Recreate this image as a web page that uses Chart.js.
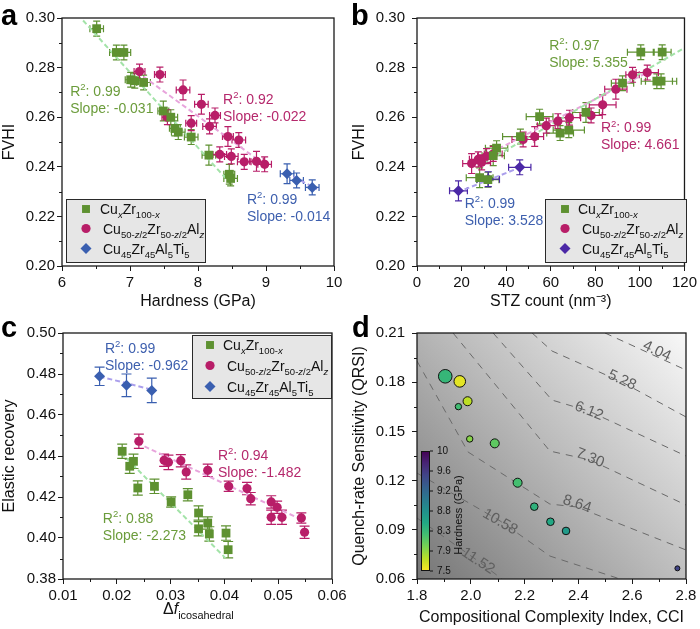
<!DOCTYPE html>
<html>
<head>
<meta charset="utf-8">
<script src="https://cdn.jsdelivr.net/npm/chart.js@4.4.0/dist/chart.umd.min.js"></script>
<style>
  html, body { margin: 0; padding: 0; background: #fff; }
  #wrap { position: relative; width: 700px; height: 629px; overflow: hidden; }
  #wrap canvas { position: absolute; }
</style>
</head>
<body>
<div id="wrap">
  <canvas id="chartA" width="350" height="315" style="left:0;top:0"></canvas>
  <canvas id="chartB" width="350" height="315" style="left:350px;top:0"></canvas>
  <canvas id="chartC" width="350" height="314" style="left:0;top:315px"></canvas>
  <canvas id="chartD" width="350" height="314" style="left:350px;top:315px"></canvas>
</div>
<script>
const FONT = "'Liberation Sans', Arial, Helvetica, sans-serif";

// ---------- panel a : FVHI vs hardness ----------
const aCuZrHardness  = [6.51, 6.80, 6.91, 7.01, 7.07, 7.20, 7.49, 7.60, 7.66, 7.71, 7.90, 8.16, 8.46, 8.48];
const aCuZrFvhi      = [0.2957, 0.2861, 0.2861, 0.2751, 0.2747, 0.2740, 0.2625, 0.2600, 0.2555, 0.2540, 0.2520, 0.2447, 0.2370, 0.2353];
const aCuZrHardErr   = [0.10, 0.10, 0.10, 0.08, 0.08, 0.10, 0.08, 0.10, 0.08, 0.10, 0.10, 0.10, 0.08, 0.10];
const aCuZrFvhiErr   = [0.003, 0.003, 0.003, 0.003, 0.003, 0.003, 0.004, 0.003, 0.003, 0.003, 0.003, 0.004, 0.004, 0.003];
const aCuZrAlHardness = [7.14, 7.44, 7.78, 8.05, 8.25, 7.55, 7.90, 8.17, 8.44, 8.60, 8.32, 8.49, 8.68, 8.86, 8.98];
const aCuZrAlFvhi     = [0.2784, 0.2772, 0.2710, 0.2652, 0.2607, 0.2600, 0.2576, 0.2563, 0.2522, 0.2508, 0.2450, 0.2442, 0.2420, 0.2422, 0.2410];
const aCuZrAlHardErr  = [0.08, 0.08, 0.10, 0.10, 0.08, 0.08, 0.08, 0.10, 0.08, 0.10, 0.10, 0.10, 0.10, 0.10, 0.10];
const aCuZrAlFvhiErr  = [0.003, 0.003, 0.004, 0.004, 0.003, 0.003, 0.003, 0.003, 0.004, 0.003, 0.003, 0.003, 0.003, 0.004, 0.003];
const aTiHardness = [9.31, 9.45, 9.68];
const aTiFvhi     = [0.2372, 0.2345, 0.2317];
const aTiHardErr  = [0.10, 0.10, 0.10];
const aTiFvhiErr  = [0.004, 0.003, 0.003];
const aFitCuZrX = [6.31, 8.45],  aFitCuZrY = [0.2990, 0.2341];
const aFitAlX   = [7.10, 9.00],  aFitAlY   = [0.2783, 0.2405];
const aFitTiX   = [9.30, 9.75],  aFitTiY   = [0.2375, 0.2310];
const aFitR2    = ['0.99', '0.92', '0.99'];
const aFitSlope = ['-0.031', '-0.022', '-0.014'];

// ---------- panel b : FVHI vs STZ count ----------
const bCuZrStz    = [100.4, 110.0, 92.2, 107.6, 109.5, 55.0, 75.8, 68.1, 64.2, 46.4, 35.7, 34.2, 28.1, 31.8];
const bCuZrFvhi   = [0.2862, 0.2862, 0.2737, 0.2745, 0.2745, 0.2602, 0.2619, 0.2548, 0.2536, 0.2522, 0.2475, 0.2445, 0.2356, 0.2348];
const bCuZrStzErr = [6, 4, 5, 7, 7, 6, 6, 7, 6, 8, 5, 5, 6, 5];
const bCuZrAlStz  = [103.3, 96.7, 89.2, 83.3, 78.1, 68.4, 63.2, 58.0, 52.8, 47.6, 34.2, 31.2, 27.5, 24.5, 29.0];
const bCuZrAlFvhi = [0.2780, 0.2771, 0.2713, 0.2650, 0.2607, 0.2598, 0.2584, 0.2566, 0.2522, 0.2510, 0.2452, 0.2443, 0.2430, 0.2413, 0.2418];
const bCuZrAlStzErr = [5, 3, 5, 6, 5, 5, 4, 4, 4, 5, 4, 4, 4, 4, 4];
const bTiStz    = [18.6, 32.0, 46.1];
const bTiFvhi   = [0.2303, 0.2350, 0.2398];
const bTiStzErr = [4, 5, 5];
const bFitCuZrX = [29.7, 120.0], bFitCuZrY = [0.2414, 0.2879];
const bFitAlX   = [23.8, 104.1], bFitAlY   = [0.2414, 0.2784];
const bFitTiX   = [18.0, 47.0],  bFitTiY   = [0.2297, 0.2400];
const bFitR2    = ['0.97', '0.99', '0.99'];
const bFitSlope = ['5.355', '4.661', '3.528'];

// ---------- panel c : elastic recovery vs delta f ----------
const cTiDf    = [0.0168, 0.0218, 0.0265];
const cTiEr    = [0.4789, 0.4745, 0.4720];
const cTiErErr = [0.0045, 0.0055, 0.0060];
const cCuZrDf    = [0.0210, 0.0224, 0.0231, 0.0239, 0.0270, 0.0301, 0.0332, 0.0352, 0.0352, 0.0369, 0.0372, 0.0403, 0.0407];
const cCuZrEr    = [0.4423, 0.4350, 0.4374, 0.4244, 0.4252, 0.4176, 0.4211, 0.4122, 0.4045, 0.4073, 0.4020, 0.4024, 0.3943];
const cCuZrErErr = [0.0035, 0.0035, 0.0035, 0.0035, 0.0035, 0.0025, 0.0030, 0.0035, 0.0035, 0.0030, 0.0035, 0.0035, 0.0040];
const cCuZrAlDf    = [0.0241, 0.0288, 0.0296, 0.0319, 0.0329, 0.0369, 0.0408, 0.0442, 0.0449, 0.0487, 0.0498, 0.0487, 0.0507, 0.0543, 0.0549];
const cCuZrAlEr    = [0.4472, 0.4379, 0.4369, 0.4377, 0.4322, 0.4330, 0.4252, 0.4241, 0.4192, 0.4176, 0.4150, 0.4101, 0.4101, 0.4098, 0.4028];
const cCuZrAlErErr = [0.0035, 0.0030, 0.0035, 0.0030, 0.0035, 0.0030, 0.0025, 0.0030, 0.0030, 0.0030, 0.0030, 0.0035, 0.0035, 0.0025, 0.0030];
const cFitTiX   = [0.0168, 0.0268], cFitTiY   = [0.4788, 0.4722];
const cFitCuZrX = [0.0208, 0.0402], cFitCuZrY = [0.4415, 0.3902];
const cFitAlX   = [0.0238, 0.0544], cFitAlY   = [0.4463, 0.4089];
const cFitR2    = ['0.99', '0.94', '0.88'];
const cFitSlope = ['-0.962', '-1.482', '-2.273'];

// ---------- panel d : QRSI vs CCI ----------
const dCci      = [1.905, 1.959, 1.988, 1.954, 1.996, 2.089, 2.174, 2.236, 2.296, 2.354, 2.768];
const dQrsi     = [0.1836, 0.1805, 0.1684, 0.1651, 0.1454, 0.1427, 0.1187, 0.1041, 0.0949, 0.0893, 0.0665];
const dHardness = [8.35, 7.60, 7.75, 8.28, 7.95, 8.13, 8.25, 8.40, 8.50, 8.65, 9.50];
const dSize     = [7.3, 6.3, 5.0, 3.7, 3.7, 5.0, 5.0, 4.3, 4.3, 4.3, 3.0];
const dColorbarTicks = ['10', '9.6', '9.2', '8.8', '8.3', '7.9', '7.5'];
const dContourLevels = ['4.04', '5.28', '6.12', '7.30', '8.64', '10.58', '11.52'];
const dContourX = [
  [2.499, 2.800],
  [2.228, 2.302, 2.562, 2.800],
  [2.083, 2.302, 2.439, 2.800],
  [1.934, 2.294, 2.443, 2.800],
  [1.800, 1.990, 2.294, 2.395, 2.800],
  [1.800, 2.109, 2.294, 2.555],
  [1.800, 2.027, 2.116]
];
const dContourY = [
  [0.2100, 0.1874],
  [0.2100, 0.1990, 0.1801, 0.1588],
  [0.2100, 0.1691, 0.1624, 0.1350],
  [0.2100, 0.1380, 0.1326, 0.1051],
  [0.1929, 0.1374, 0.1057, 0.1039, 0.0777],
  [0.1246, 0.0954, 0.0740, 0.0600],
  [0.0972, 0.0710, 0.0600]
];

// ---------- colours ----------
const GREEN = '#5e9131', PINK = '#b81e68', BLUE = '#3a5fb0', PURPLE = '#4b28a6';
const GREEN_T = '#6b9c3b', PINK_T = '#b5286c', BLUE_T = '#3d5fae';
const GREEN_L = '#a3e3a8', PINK_L = '#e8a4dc', BLUE_L = '#ab9fec';
const VIRIDIS = ['#440154', '#482475', '#414487', '#355f8d', '#2a788e', '#21918c', '#22a884', '#44bf70', '#7ad151', '#bddf26', '#fde725'];

function hexRgb(h) { return [1, 3, 5].map(i => parseInt(h.substr(i, 2), 16)); }
function viridis(t) {
  t = Math.max(0, Math.min(1, t));
  const f = t * 10, i = Math.min(9, Math.floor(f)), k = f - i;
  const a = hexRgb(VIRIDIS[i]), b = hexRgb(VIRIDIS[i + 1]);
  return 'rgb(' + a.map((v, j) => Math.round(v + (b[j] - v) * k)).join(',') + ')';
}
const hardnessColor = h => viridis((10 - h) / 2.5);

const pts = (xs, ys, extra) => xs.map((x, i) => Object.assign({ x, y: ys[i] }, extra ? extra(i) : {}));

// ---------- text helpers ----------
// segments: [text, kind]  kind: '' | 'sub' | 'subI' | 'sup' | 'I'
function drawRich(ctx, segs, x, y, size, color) {
  ctx.fillStyle = color;
  ctx.textAlign = 'left';
  ctx.textBaseline = 'alphabetic';
  let cx = x;
  segs.forEach(([t, kind]) => {
    const small = kind.startsWith('sub') || kind.startsWith('sup');
    const fs = small ? size * 0.68 : size;
    const it = kind.endsWith('I') ? 'italic ' : '';
    ctx.font = it + fs + 'px ' + FONT;
    const dy = kind.startsWith('sub') ? size * 0.3 : kind.startsWith('sup') ? -size * 0.4 : 0;
    ctx.fillText(t, cx, y + dy);
    cx += ctx.measureText(t).width;
  });
}
const SEG_CUZR = [['Cu', ''], ['x', 'subI'], ['Zr', ''], ['100-', 'sub'], ['x', 'subI']];
const SEG_CUZRAL = [['Cu', ''], ['50-', 'sub'], ['z', 'subI'], ['/2', 'sub'], ['Zr', ''], ['50-', 'sub'], ['z', 'subI'], ['/2', 'sub'], ['Al', ''], ['z', 'subI']];
const SEG_TI = [['Cu', ''], ['45', 'sub'], ['Zr', ''], ['45', 'sub'], ['Al', ''], ['5', 'sub'], ['Ti', ''], ['5', 'sub']];

// ---------- decoration plugin (frame, minor ticks, error bars, legend, notes) ----------
const deco = {
  id: 'deco',
  beforeDatasetsDraw(chart, args, o) {
    const { ctx, chartArea: a, scales: { x, y } } = chart;
    ctx.save();
    if (o.background) {
      const g = ctx.createLinearGradient(a.left, a.bottom, a.right, a.top);
      g.addColorStop(0, '#767676');
      g.addColorStop(0.5, '#b9b9b9');
      g.addColorStop(1, '#f8f8f8');
      ctx.fillStyle = g;
      ctx.fillRect(a.left, a.top, a.right - a.left, a.bottom - a.top);
    }
    // error bars
    chart.data.datasets.forEach(ds => {
      if (!ds.errY && !ds.errX) return;
      ctx.strokeStyle = ds.backgroundColor;
      ctx.lineWidth = 1.2;
      ctx.beginPath();
      ds.data.forEach((p, i) => {
        const px = x.getPixelForValue(p.x), py = y.getPixelForValue(p.y);
        const cap = o.cap || 3.5;
        if (ds.errY) {
          const t = y.getPixelForValue(p.y + ds.errY[i]), b = y.getPixelForValue(p.y - ds.errY[i]);
          ctx.moveTo(px, t); ctx.lineTo(px, b);
          ctx.moveTo(px - cap, t); ctx.lineTo(px + cap, t);
          ctx.moveTo(px - cap, b); ctx.lineTo(px + cap, b);
        }
        if (ds.errX) {
          const l = x.getPixelForValue(p.x - ds.errX[i]), r = x.getPixelForValue(p.x + ds.errX[i]);
          ctx.moveTo(l, py); ctx.lineTo(r, py);
          ctx.moveTo(l, py - cap); ctx.lineTo(l, py + cap);
          ctx.moveTo(r, py - cap); ctx.lineTo(r, py + cap);
        }
      });
      ctx.stroke();
    });
    ctx.restore();
  },
  afterDatasetsDraw(chart, args, o) {
    const { ctx, scales: { x, y } } = chart;
    if (!o.contourLabels) return;
    ctx.save();
    ctx.fillStyle = '#5f5f5f';
    ctx.font = '15px ' + FONT;
    ctx.textAlign = 'center';
    ctx.textBaseline = 'middle';
    o.contourLabels.forEach(l => {
      ctx.save();
      ctx.translate(x.getPixelForValue(l.x), y.getPixelForValue(l.y));
      ctx.rotate(l.rot * Math.PI / 180);
      ctx.fillText(l.text, 0, 0);
      ctx.restore();
    });
    ctx.restore();
  },
  afterDraw(chart, args, o) {
    const { ctx, chartArea: a, scales: { x, y } } = chart;
    ctx.save();
    // minor ticks
    ctx.strokeStyle = '#1a1a1a';
    ctx.lineWidth = 1;
    ctx.beginPath();
    for (let v = x.min + o.xMinor; v < x.max; v += o.xMinor * 2) {
      const p = Math.round(x.getPixelForValue(v)) + 0.5;
      ctx.moveTo(p, a.bottom); ctx.lineTo(p, a.bottom + 3);
    }
    for (let v = y.min + o.yMinor; v < y.max; v += o.yMinor * 2) {
      const p = Math.round(y.getPixelForValue(v)) + 0.5;
      ctx.moveTo(a.left, p); ctx.lineTo(a.left - 3, p);
    }
    ctx.stroke();
    // frame
    ctx.lineWidth = 1.3;
    ctx.strokeRect(a.left, a.top, a.right - a.left, a.bottom - a.top);

    // colour bar (panel d)
    if (o.colorbar) {
      const cb = o.colorbar;
      const g = ctx.createLinearGradient(0, cb.y, 0, cb.y + cb.h);
      VIRIDIS.forEach((c, i) => g.addColorStop(i / 10, c));
      ctx.fillStyle = g;
      ctx.fillRect(cb.x, cb.y, cb.w, cb.h);
      ctx.lineWidth = 1;
      ctx.strokeStyle = '#111';
      ctx.strokeRect(cb.x + 0.5, cb.y + 0.5, cb.w - 1, cb.h - 1);
      ctx.fillStyle = '#111';
      ctx.font = '10px ' + FONT;
      ctx.textAlign = 'left';
      ctx.textBaseline = 'middle';
      ctx.beginPath();
      dColorbarTicks.forEach((t, i) => {
        const ty = cb.y + cb.h * i / (dColorbarTicks.length - 1);
        ctx.moveTo(cb.x + cb.w, ty); ctx.lineTo(cb.x + cb.w + 3, ty);
        ctx.fillText(t, cb.x + cb.w + 7, ty);
      });
      ctx.stroke();
      ctx.save();
      ctx.translate(cb.x + cb.w + 29, cb.y + cb.h / 2 + 4);
      ctx.rotate(-Math.PI / 2);
      ctx.font = '11px ' + FONT;
      ctx.textAlign = 'center';
      ctx.fillText('Hardness (GPa)', 0, 0);
      ctx.restore();
    }

    // legend box
    if (o.legend) {
      const L = o.legend;
      ctx.fillStyle = '#e6e6e6';
      ctx.fillRect(L.x, L.y, L.w, L.h);
      ctx.strokeStyle = '#2a2a2a';
      ctx.lineWidth = 1;
      ctx.strokeRect(L.x + 0.5, L.y + 0.5, L.w - 1, L.h - 1);
      L.rows.forEach(r => {
        ctx.fillStyle = r.color;
        Chart.helpers.drawPoint(ctx, { pointStyle: r.shape, radius: r.radius, rotation: 0, borderWidth: 0 }, L.mx, r.y);
        drawRich(ctx, r.segs, r.tx, r.y + 5, 14, '#111');
      });
    }

    // fit notes
    (o.notes || []).forEach(n => {
      const px = x.getPixelForValue(n.x), py = y.getPixelForValue(n.y);
      drawRich(ctx, [['R', ''], ['2', 'sup'], [': ' + n.r2, '']], px, py + 5, 14, n.color);
      drawRich(ctx, [['Slope: ' + n.slope, '']], px, py + 5 + 17, 14, n.color);
    });

    // custom x title (panel c)
    if (o.xTitleRich) {
      const t = o.xTitleRich;
      drawRich(ctx, t.segs, t.x, t.y, 16, '#111');
    }

    // panel letter
    ctx.fillStyle = '#000';
    ctx.font = 'bold 29px ' + FONT;
    ctx.textAlign = 'left';
    ctx.textBaseline = 'alphabetic';
    ctx.fillText(o.letter, o.letterX, o.letterY);
    ctx.restore();
  }
};
Chart.register(deco);

function axis(opt) {
  return {
    type: 'linear',
    min: opt.min, max: opt.max,
    afterFit: s => { if (opt.width) s.width = opt.width; if (opt.height) s.height = opt.height; },
    ticks: {
      stepSize: opt.step, padding: opt.pad, color: '#111', autoSkip: false, maxRotation: 0,
      font: { family: FONT, size: 15 },
      callback: v => opt.fmt(v)
    },
    grid: { display: true, drawOnChartArea: false, drawTicks: true, tickLength: 5, tickWidth: 1, tickColor: '#1a1a1a', color: '#1a1a1a' },
    border: { display: false },
    title: {
      display: !!opt.title, text: opt.title, color: '#111',
      font: { family: FONT, size: 16 },
      padding: opt.titlePad || { top: 0, bottom: 0 }
    }
  };
}

function markerSet(label, xs, ys, color, shape, radius, errX, errY) {
  return {
    label, data: pts(xs, ys), pointStyle: shape, pointRadius: radius,
    backgroundColor: color, borderColor: color, borderWidth: 0,
    showLine: false, errX, errY
  };
}
function fitSet(xs, ys, color) {
  return {
    data: pts(xs, ys), showLine: true, borderColor: color, borderWidth: 2,
    borderDash: [5, 3], pointRadius: 0, fill: false
  };
}

const common = { responsive: false, animation: false, events: [] };
const f2 = v => Number(v).toFixed(2);
const f1 = v => Number(v).toFixed(1);
const f0 = v => String(Math.round(v));

// ---------- chart a ----------
new Chart(document.getElementById('chartA'), {
  type: 'scatter',
  data: {
    datasets: [
      markerSet('CuZr', aCuZrHardness, aCuZrFvhi, GREEN, 'rect', 6.2, aCuZrHardErr, aCuZrFvhiErr),
      markerSet('CuZrAl', aCuZrAlHardness, aCuZrAlFvhi, PINK, 'circle', 4.6, aCuZrAlHardErr, aCuZrAlFvhiErr),
      markerSet('CuZrAlTi', aTiHardness, aTiFvhi, BLUE, 'rectRot', 5.5, aTiHardErr, aTiFvhiErr),
      fitSet(aFitCuZrX, aFitCuZrY, GREEN_L),
      fitSet(aFitAlX, aFitAlY, PINK_L),
      fitSet(aFitTiX, aFitTiY, BLUE_L)
    ]
  },
  options: Object.assign({}, common, {
    layout: { padding: { top: 18, right: 16, left: 0, bottom: 0 } },
    scales: {
      x: axis({ min: 6, max: 10, step: 1, pad: 3, fmt: f0, height: 49, title: 'Hardness (GPa)', titlePad: { top: 0, bottom: 3.4 } }),
      y: axis({ min: 0.20, max: 0.30, step: 0.02, pad: 2, fmt: f2, width: 62, title: 'FVHI', titlePad: { top: 0.4, bottom: 0 } })
    },
    plugins: {
      legend: { display: false }, tooltip: { enabled: false },
      deco: {
        letter: 'a', letterX: 1, letterY: 25, xMinor: 0.5, yMinor: 0.01, cap: 3.5,
        legend: {
          x: 66, y: 199, w: 140, h: 64, mx: 86, rows: [
            { y: 209, shape: 'rect', radius: 5.6, color: GREEN, segs: SEG_CUZR, tx: 100 },
            { y: 228.5, shape: 'circle', radius: 4.6, color: PINK, segs: SEG_CUZRAL, tx: 103 },
            { y: 248.5, shape: 'rectRot', radius: 5.5, color: BLUE, segs: SEG_TI, tx: 103 }
          ]
        },
        notes: [
          { x: 6.12, y: 0.2706, r2: aFitR2[0], slope: aFitSlope[0], color: GREEN_T },
          { x: 8.368, y: 0.2673, r2: aFitR2[1], slope: aFitSlope[1], color: PINK_T },
          { x: 8.72, y: 0.2270, r2: aFitR2[2], slope: aFitSlope[2], color: BLUE_T }
        ]
      }
    }
  })
});

// ---------- chart b ----------
new Chart(document.getElementById('chartB'), {
  type: 'scatter',
  data: {
    datasets: [
      markerSet('CuZr', bCuZrStz, bCuZrFvhi, GREEN, 'rect', 6.2, bCuZrStzErr, aCuZrFvhiErr),
      markerSet('CuZrAl', bCuZrAlStz, bCuZrAlFvhi, PINK, 'circle', 4.6, bCuZrAlStzErr, aCuZrAlFvhiErr),
      markerSet('CuZrAlTi', bTiStz, bTiFvhi, PURPLE, 'rectRot', 5.5, bTiStzErr, aTiFvhiErr),
      fitSet(bFitCuZrX, bFitCuZrY, GREEN_L),
      fitSet(bFitAlX, bFitAlY, PINK_L),
      fitSet(bFitTiX, bFitTiY, BLUE_L)
    ]
  },
  options: Object.assign({}, common, {
    layout: { padding: { top: 18, right: 14, left: 0, bottom: 0 } },
    scales: {
      x: axis({ min: 0, max: 120, step: 20, pad: 3, fmt: f0, height: 49, title: 'STZ count (nm\u207B\u00B3)', titlePad: { top: 0, bottom: 3.4 } }),
      y: axis({ min: 0.20, max: 0.30, step: 0.02, pad: 7, fmt: f2, width: 67, title: 'FVHI', titlePad: { top: 0.4, bottom: 0 } })
    },
    plugins: {
      legend: { display: false }, tooltip: { enabled: false },
      deco: {
        letter: 'b', letterX: 1, letterY: 25, xMinor: 10, yMinor: 0.01, cap: 3.5,
        legend: {
          x: 195, y: 199, w: 142, h: 64, mx: 215, rows: [
            { y: 209, shape: 'rect', radius: 5.6, color: GREEN, segs: SEG_CUZR, tx: 228 },
            { y: 228.5, shape: 'circle', radius: 4.6, color: PINK, segs: SEG_CUZRAL, tx: 232 },
            { y: 248.5, shape: 'rectRot', radius: 5.5, color: PURPLE, segs: SEG_TI, tx: 232 }
          ]
        },
        notes: [
          { x: 59.3, y: 0.2891, r2: bFitR2[0], slope: bFitSlope[0], color: GREEN_T },
          { x: 82.5, y: 0.2560, r2: bFitR2[1], slope: bFitSlope[1], color: PINK_T },
          { x: 21.4, y: 0.2254, r2: bFitR2[2], slope: bFitSlope[2], color: BLUE_T }
        ]
      }
    }
  })
});

// ---------- chart c ----------
new Chart(document.getElementById('chartC'), {
  type: 'scatter',
  data: {
    datasets: [
      markerSet('CuZr', cCuZrDf, cCuZrEr, GREEN, 'rect', 6.2, null, cCuZrErErr),
      markerSet('CuZrAl', cCuZrAlDf, cCuZrAlEr, PINK, 'circle', 4.6, null, cCuZrAlErErr),
      markerSet('CuZrAlTi', cTiDf, cTiEr, BLUE, 'rectRot', 5.5, null, cTiErErr),
      fitSet(cFitCuZrX, cFitCuZrY, GREEN_L),
      fitSet(cFitAlX, cFitAlY, PINK_L),
      fitSet(cFitTiX, cFitTiY, BLUE_L)
    ]
  },
  options: Object.assign({}, common, {
    layout: { padding: { top: 18, right: 18, left: 0, bottom: 0 } },
    scales: {
      x: axis({ min: 0.01, max: 0.06, step: 0.01, pad: 3, fmt: f2, height: 50 }),
      y: axis({ min: 0.38, max: 0.50, step: 0.02, pad: 2, fmt: f2, width: 63, title: 'Elastic recovery', titlePad: { top: 0.4, bottom: 0 } })
    },
    plugins: {
      legend: { display: false }, tooltip: { enabled: false },
      deco: {
        letter: 'c', letterX: 1, letterY: 22, xMinor: 0.005, yMinor: 0.01, cap: 5,
        legend: {
          x: 192, y: 20, w: 140, h: 64, mx: 210, rows: [
            { y: 30, shape: 'rect', radius: 5.6, color: GREEN, segs: SEG_CUZR, tx: 223 },
            { y: 50.5, shape: 'circle', radius: 4.6, color: PINK, segs: SEG_CUZRAL, tx: 227 },
            { y: 71.5, shape: 'rectRot', radius: 5.5, color: BLUE, segs: SEG_TI, tx: 227 }
          ]
        },
        notes: [
          { x: 0.0178, y: 0.4927, r2: cFitR2[0], slope: cFitSlope[0], color: BLUE_T },
          { x: 0.0388, y: 0.4405, r2: cFitR2[1], slope: cFitSlope[1], color: PINK_T },
          { x: 0.0174, y: 0.4098, r2: cFitR2[2], slope: cFitSlope[2], color: GREEN_T }
        ],
        xTitleRich: { x: 163, y: 299, segs: [['\u0394', ''], ['f', 'I'], ['icosahedral', 'sub']] }
      }
    }
  })
});

// ---------- chart d ----------
const contourSets = dContourX.map((xs, i) => ({
  type: 'line', data: pts(xs, dContourY[i]), borderColor: '#6a6a6a', borderWidth: 1,
  borderDash: [7, 6], pointRadius: 0, fill: false, tension: 0
}));
new Chart(document.getElementById('chartD'), {
  type: 'scatter',
  data: {
    datasets: [
      {
        type: 'bubble',
        data: pts(dCci, dQrsi, i => ({ r: dSize[i] - 0.5 })),
        backgroundColor: ctx => hardnessColor(dHardness[ctx.dataIndex]),
        borderColor: '#111', borderWidth: 1
      }
    ].concat(contourSets)
  },
  options: Object.assign({}, common, {
    layout: { padding: { top: 18, right: 14, left: 0, bottom: 0 } },
    scales: {
      x: axis({ min: 1.8, max: 2.8, step: 0.2, pad: 3, fmt: f1, height: 50, title: 'Compositional Complexity Index, CCI', titlePad: { top: 0, bottom: 1.4 } }),
      y: axis({ min: 0.06, max: 0.21, step: 0.03, pad: 7, fmt: f2, width: 67, title: 'Quench-rate Sensitivity (QRSI)', titlePad: { top: 0.4, bottom: 0 } })
    },
    plugins: {
      legend: { display: false }, tooltip: { enabled: false },
      deco: {
        letter: 'd', letterX: 2, letterY: 22, xMinor: 0.1, yMinor: 0.015,
        background: true,
        colorbar: { x: 71, y: 136, w: 9, h: 120 },
        contourLabels: [
          { x: 2.692, y: 0.1990, rot: 25, text: dContourLevels[0] },
          { x: 2.562, y: 0.1813, rot: 25, text: dContourLevels[1] },
          { x: 2.439, y: 0.1624, rot: 22, text: dContourLevels[2] },
          { x: 2.443, y: 0.1338, rot: 22, text: dContourLevels[3] },
          { x: 2.395, y: 0.1057, rot: 18, text: dContourLevels[4] },
          { x: 2.109, y: 0.0948, rot: 30, text: dContourLevels[5] },
          { x: 2.027, y: 0.0710, rot: 33, text: dContourLevels[6] }
        ]
      }
    }
  })
});
</script>
</body>
</html>
